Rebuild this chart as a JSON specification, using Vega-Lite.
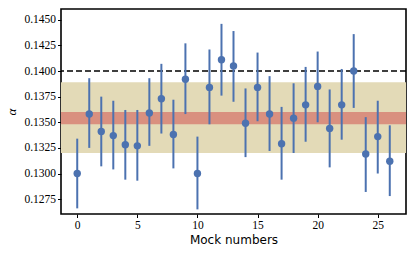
{
  "$schema": "https://vega.github.io/schema/vega-lite/v6.json",
  "autosize": {"type": "none"},
  "padding": {"left": 61, "top": 9, "right": 10, "bottom": 41},
  "width": 345,
  "height": 205,
  "config": {
    "view": {"stroke": "#000000", "strokeWidth": 1.6},
    "axis": {
      "grid": false,
      "domain": false,
      "tickColor": "#000000",
      "tickSize": 3.5,
      "tickWidth": 1,
      "labelColor": "#000000",
      "labelPadding": 2,
      "labelOverlap": false,
      "titleColor": "#000000",
      "titleFontWeight": "normal"
    },
    "axisY": {"labelOverlap": false}
  },
  "datasets": {
    "mocks": [
      {"mock": 0, "alpha": 0.1300, "hi": 0.1334, "lo": 0.1266},
      {"mock": 1, "alpha": 0.1358, "hi": 0.1393, "lo": 0.1325},
      {"mock": 2, "alpha": 0.1341, "hi": 0.1375, "lo": 0.1307},
      {"mock": 3, "alpha": 0.1337, "hi": 0.1371, "lo": 0.1304},
      {"mock": 4, "alpha": 0.1328, "hi": 0.1362, "lo": 0.1294},
      {"mock": 5, "alpha": 0.1327, "hi": 0.1362, "lo": 0.1293},
      {"mock": 6, "alpha": 0.1359, "hi": 0.1393, "lo": 0.1327},
      {"mock": 7, "alpha": 0.1373, "hi": 0.1407, "lo": 0.1339},
      {"mock": 8, "alpha": 0.1338, "hi": 0.1372, "lo": 0.1305},
      {"mock": 9, "alpha": 0.1392, "hi": 0.1427, "lo": 0.1358},
      {"mock": 10, "alpha": 0.1300, "hi": 0.1336, "lo": 0.1265},
      {"mock": 11, "alpha": 0.1384, "hi": 0.1421, "lo": 0.1348},
      {"mock": 12, "alpha": 0.1411, "hi": 0.1446, "lo": 0.1376},
      {"mock": 13, "alpha": 0.1405, "hi": 0.1439, "lo": 0.1370},
      {"mock": 14, "alpha": 0.1349, "hi": 0.1383, "lo": 0.1316},
      {"mock": 15, "alpha": 0.1384, "hi": 0.1418, "lo": 0.1351},
      {"mock": 16, "alpha": 0.1358, "hi": 0.1395, "lo": 0.1322},
      {"mock": 17, "alpha": 0.1329, "hi": 0.1365, "lo": 0.1294},
      {"mock": 18, "alpha": 0.1354, "hi": 0.1388, "lo": 0.1320},
      {"mock": 19, "alpha": 0.1367, "hi": 0.1404, "lo": 0.1331},
      {"mock": 20, "alpha": 0.1385, "hi": 0.1419, "lo": 0.1350},
      {"mock": 21, "alpha": 0.1344, "hi": 0.1382, "lo": 0.1306},
      {"mock": 22, "alpha": 0.1367, "hi": 0.1402, "lo": 0.1333},
      {"mock": 23, "alpha": 0.1400, "hi": 0.1436, "lo": 0.1364},
      {"mock": 24, "alpha": 0.1319, "hi": 0.1355, "lo": 0.1282},
      {"mock": 25, "alpha": 0.1336, "hi": 0.1371, "lo": 0.1300},
      {"mock": 26, "alpha": 0.1312, "hi": 0.1347, "lo": 0.1278}
    ],
    "bands": [
      {"band": "wide", "lo": 0.1320, "hi": 0.1389},
      {"band": "narrow", "lo": 0.1348, "hi": 0.1360}
    ],
    "refline": [{"alpha": 0.14}]
  },
  "encoding": {
    "y": {"type": "quantitative",
          "scale": {"domain": [0.12605, 0.14605], "nice": false, "zero": false},
          "axis": {"values": [0.1275, 0.13, 0.1325, 0.135, 0.1375, 0.14, 0.1425, 0.145], "format": ".4f", "labelFont": "Liberation Serif", "labelFontSize": 11.5, "labelOverlap": false, "title": "α", "titleFont": "Liberation Serif", "titleFontStyle": "italic", "titleFontSize": 13, "titlePadding": 5}}
  },
  "layer": [
    {
      "data": {"name": "bands"},
      "transform": [{"filter": "datum.band === 'wide'"}],
      "mark": {"type": "rect", "color": "#e3dab7", "opacity": 1},
      "encoding": {
        "y": {"field": "lo"},
        "y2": {"field": "hi"}
      }
    },
    {
      "data": {"name": "bands"},
      "transform": [{"filter": "datum.band === 'narrow'"}],
      "mark": {"type": "rect", "color": "#d9907f", "opacity": 1},
      "encoding": {
        "y": {"field": "lo"},
        "y2": {"field": "hi"}
      }
    },
    {
      "data": {"name": "refline"},
      "mark": {"type": "rule", "color": "#000000", "strokeWidth": 1.6, "strokeDash": [6, 3]},
      "encoding": {
        "y": {"field": "alpha"}
      }
    },
    {
      "data": {"name": "mocks"},
      "mark": {"type": "rule", "color": "#4c72b0", "strokeWidth": 2},
      "encoding": {
        "x": {"field": "mock", "type": "quantitative", "scale": {"domain": [-1.35, 27.35], "nice": false, "zero": false},
              "axis": {"values": [0, 5, 10, 15, 20, 25], "labelFont": "Liberation Serif", "labelFontSize": 11.5, "labelOverlap": false, "title": "Mock numbers", "titleFont": "DejaVu Sans", "titleFontSize": 12, "titlePadding": 3}},
        "y": {"field": "lo"},
        "y2": {"field": "hi"}
      }
    },
    {
      "data": {"name": "mocks"},
      "mark": {"type": "circle", "color": "#4c72b0", "opacity": 1, "size": 55},
      "encoding": {
        "x": {"field": "mock", "type": "quantitative"},
        "y": {"field": "alpha"}
      }
    }
  ]
}
